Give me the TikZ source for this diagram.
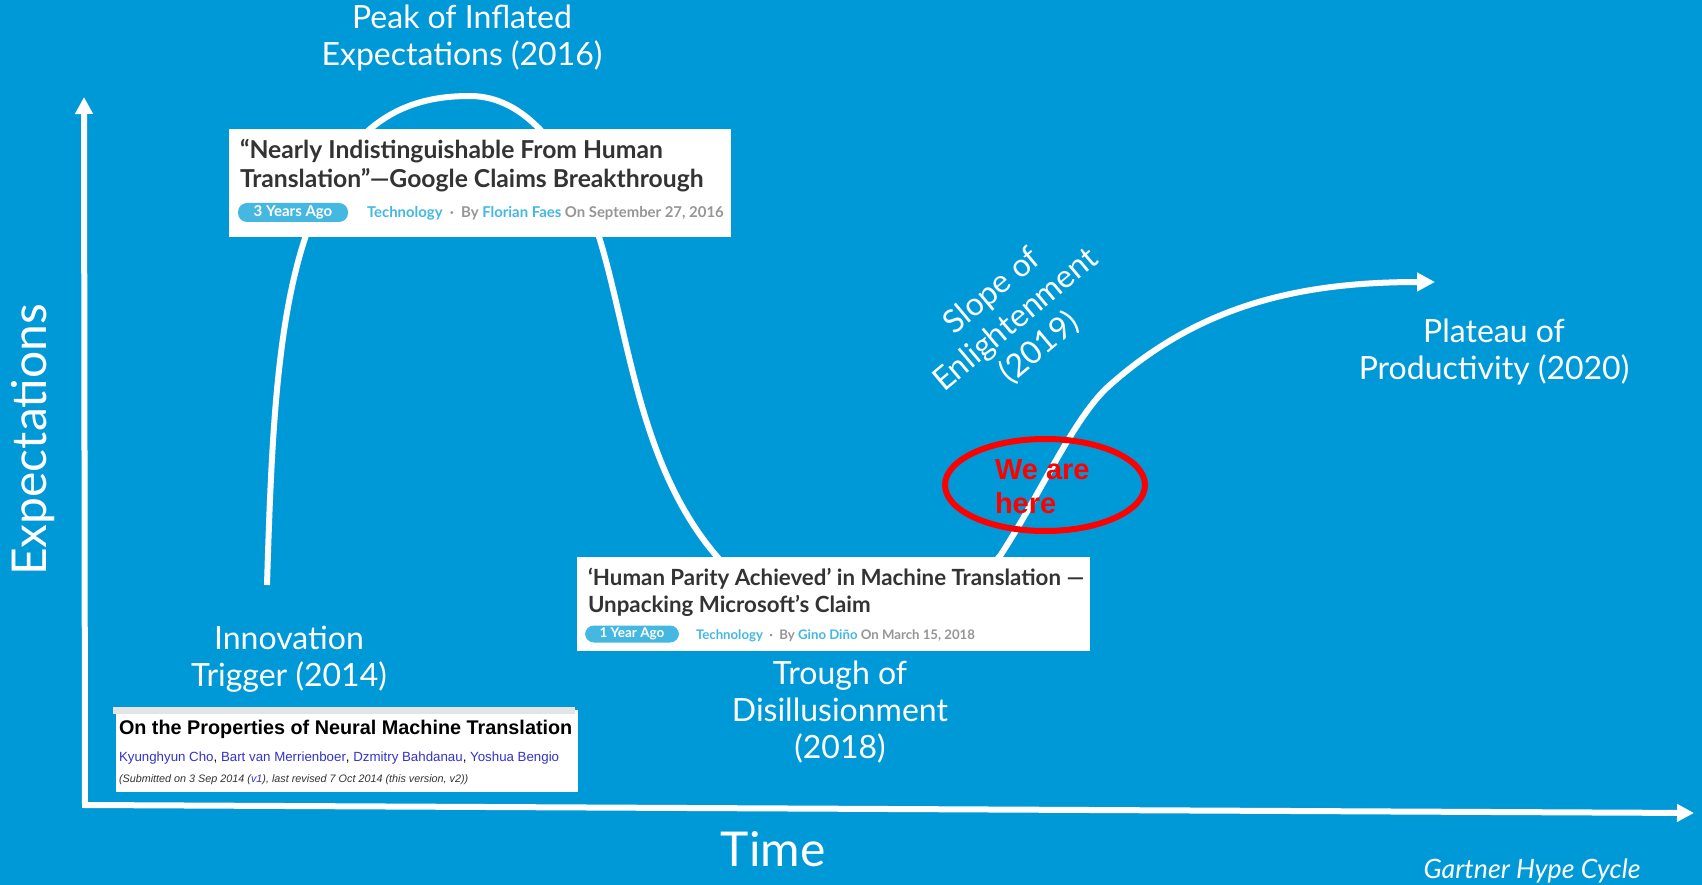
\documentclass[tikz,border=0pt]{standalone}
\usepackage{fontspec}
\setmainfont{Lato}
\newfontfamily\arialfont{Liberation Sans}
\usetikzlibrary{arrows.meta}
\definecolor{hypeblue}{RGB}{0,153,216}
\definecolor{tagcyan}{RGB}{69,184,226}
\definecolor{taggray}{RGB}{150,150,150}
\definecolor{headgray}{RGB}{51,51,51}
\definecolor{authorblue}{RGB}{51,51,204}
\definecolor{stripgray}{RGB}{228,228,228}
\tikzset{
  stagelabel/.style={text=white, align=center, inner sep=0pt, font=\fontsize{32}{37}\selectfont},
  axislabel/.style={text=white, inner sep=0pt, font=\fontsize{48}{52}\selectfont},
  newsbox/.style={fill=white, draw=none, anchor=north west, inner sep=0pt},
  headline/.style={text=headgray, anchor=base west, align=left, inner sep=0pt},
  pill/.style={fill=tagcyan, text=white, rounded corners=9pt, inner sep=0pt, font=\bfseries\fontsize{15}{15}\selectfont},
  tagline/.style={anchor=base west, inner sep=0pt, text=taggray},
}
\begin{document}
\begin{tikzpicture}[x=1pt, y=-1pt, line width=6pt]
	\fill[hypeblue] (0,0) rectangle (1702,885);
	\useasboundingbox (0,0) rectangle (1702,885);
	% axes
	\coordinate (ytip) at (84,97);
	\coordinate (origin) at (85,805);
	\coordinate (xtip) at (1694,813);
	\draw[white, {Triangle[length=17pt,width=17pt]}-{Triangle[length=17pt,width=17pt]}] (ytip) -- (origin) -- (xtip);
	% hype curve
	\draw[white, -{Triangle[length=18pt,width=18pt]}] (267,585) .. controls (272,420) and (278,290) .. (320,200)
		.. controls (360,110) and (420,96) .. (470,96)
		.. controls (525,96) and (570,150) .. (600,240)
		.. controls (630,340) and (640,470) .. (720,560)
		.. controls (780,630) and (930,640) .. (1000,556)
		.. controls (1040,495) and (1075,415) .. (1110,385)
		.. controls (1200,305) and (1300,282) .. (1435,282);
	% google
	\node[newsbox, minimum width=502pt, minimum height=108pt] (googlebox) at (226,126) {};
	\node[headline, font=\bfseries\fontsize{24.7}{29.5}\selectfont] (googletitle) at (237,188) {“Nearly Indistinguishable From Human\\Translation”—Google Claims Breakthrough};
	\node[pill, minimum width=110pt, minimum height=19pt] (googlepill) at (293,212.5) {3 Years Ago};
	\node[tagline, font=\bfseries\fontsize{14.9}{15}\selectfont] (googletag) at (364,218) {\textcolor{tagcyan}{Technology}\ \ ·\ \ By \textcolor{tagcyan}{Florian Faes} On September 27, 2016};
	% microsoft
	\node[newsbox, minimum width=513pt, minimum height=94pt] (msbox) at (574,554) {};
	\node[headline, font=\bfseries\fontsize{22.3}{27}\selectfont] (mstitle) at (585,612) {‘Human Parity Achieved’ in Machine Translation —\\Unpacking Microsoft’s Claim};
	\node[pill, minimum width=94pt, minimum height=17pt, font=\bfseries\fontsize{13.5}{13.5}\selectfont] (mspill) at (632,634) {1 Year Ago};
	\node[tagline, font=\bfseries\fontsize{13.2}{13.2}\selectfont] (mstag) at (693,639) {\textcolor{tagcyan}{Technology}\ \ ·\ \ By \textcolor{tagcyan}{Gino Diño} On March 15, 2018};
	% arxiv
	\node[newsbox, minimum width=462pt, minimum height=82pt] (arxivbox) at (113,707) {};
	\fill[stripgray] (113,707) rectangle (575,714);
	\node[headline, text=black, font=\arialfont\bfseries\fontsize{19.8}{20}\selectfont] (arxivtitle) at (116,734) {On the Properties of Neural Machine Translation};
	\node[headline, text=black, font=\arialfont\fontsize{13.3}{13.3}\selectfont] (arxivauthors) at (116,761) {\textcolor{authorblue}{Kyunghyun Cho}, \textcolor{authorblue}{Bart van Merrienboer}, \textcolor{authorblue}{Dzmitry Bahdanau}, \textcolor{authorblue}{Yoshua Bengio}};
	\node[headline, font=\arialfont\itshape\fontsize{10.8}{10.8}\selectfont] (arxivdate) at (116,782) {(Submitted on 3 Sep 2014 (\textcolor{authorblue}{v1}), last revised 7 Oct 2014 (this version, v2))};
	% stage labels
	\node[stagelabel] (peak) at (462,38) {Peak of Inflated\\Expectations (2016)};
	\node[stagelabel] (trigger) at (289,659) {Innovation\\Trigger (2014)};
	\node[stagelabel] (trough) at (840,712) {Trough of\\Disillusionment\\(2018)};
	\node[stagelabel, rotate=40] (slope) at (1016,320) {Slope of\\Enlightenment\\(2019)};
	\node[stagelabel] (plateau) at (1494,352) {Plateau of\\Productivity (2020)};
	\node[axislabel, rotate=90] (expect) at (33,440) {Expectations};
	\node[axislabel] (time) at (773,849) {Time};
	\node[text=white, inner sep=0pt, font=\itshape\fontsize{26.7}{27}\selectfont] (gartner) at (1532,871) {Gartner Hype Cycle};
	% we are here
	\draw[red] (1045,485) ellipse[x radius=100, y radius=46];
	\node[anchor=base west, align=left, inner sep=0pt, text=red, font=\arialfont\bfseries\fontsize{29}{34}\selectfont] (here) at (992,513) {We are\\here};
\end{tikzpicture}
\end{document}
